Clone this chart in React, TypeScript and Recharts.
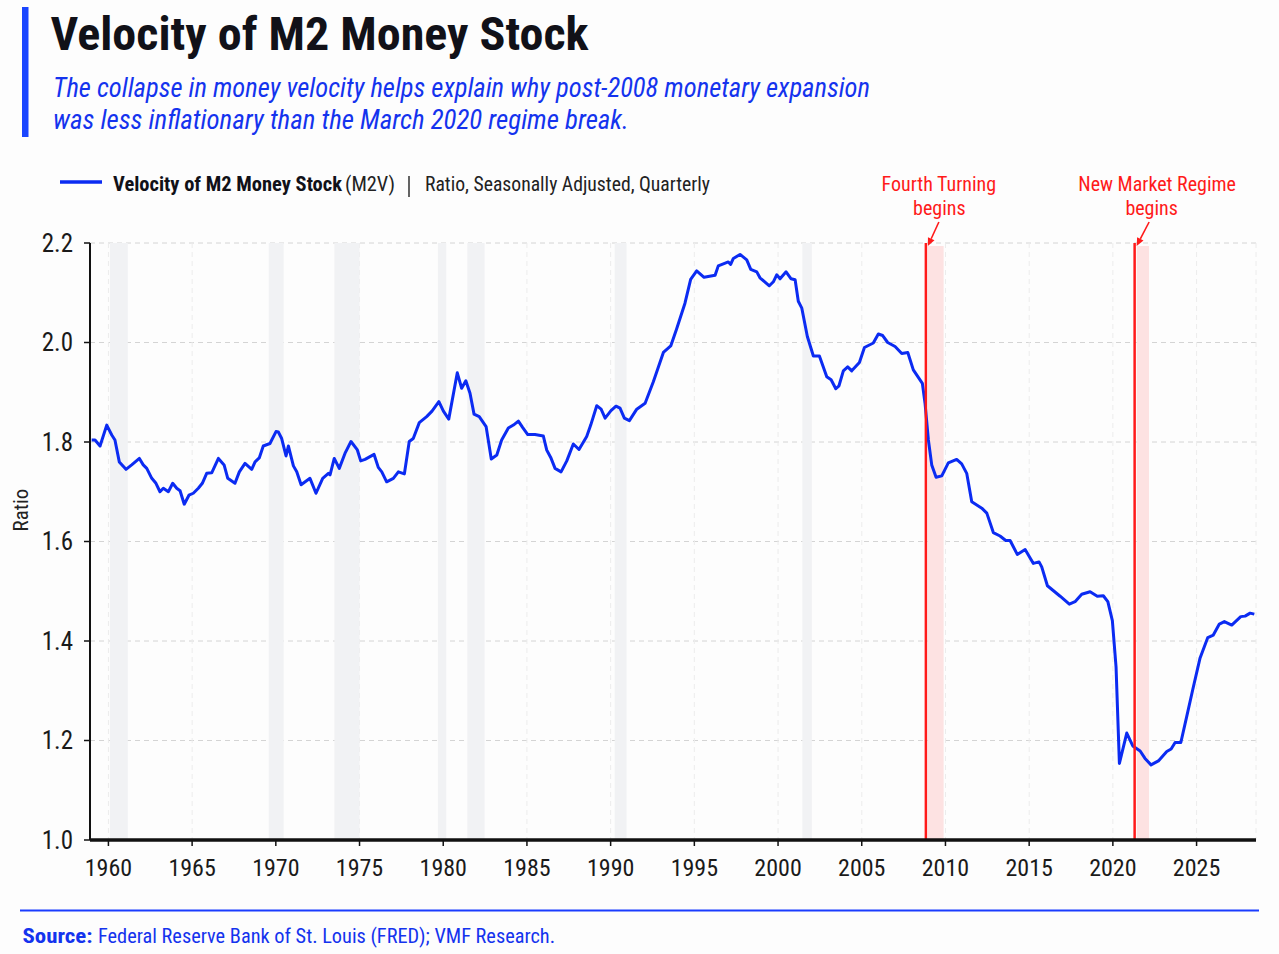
import React from 'react';
import { LineChart, Line, XAxis, YAxis, CartesianGrid, ReferenceArea, ReferenceLine } from 'recharts';

// ---- data ----
const years = [
  1959.0, 1959.2, 1959.5, 1959.9, 1960.2, 1960.39, 1960.65, 1961.05, 1961.39, 1961.85,
  1962.08, 1962.29, 1962.59, 1962.84, 1963.08, 1963.28, 1963.58, 1963.84, 1964.08, 1964.28,
  1964.53, 1964.81, 1965.07, 1965.37, 1965.61, 1965.87, 1966.17, 1966.57, 1966.91, 1967.13,
  1967.56, 1967.82, 1968.16, 1968.56, 1968.76, 1969.01, 1969.25, 1969.65, 1970.01, 1970.15,
  1970.35, 1970.61, 1970.75, 1971.05, 1971.25, 1971.51, 1972.04, 1972.4, 1972.8, 1973.14,
  1973.24, 1973.49, 1973.79, 1974.13, 1974.49, 1974.87, 1975.07, 1975.33, 1975.87, 1976.12,
  1976.33, 1976.62, 1977.02, 1977.32, 1977.68, 1977.97, 1978.21, 1978.57, 1979.01, 1979.33,
  1979.74, 1980.01, 1980.33, 1980.84, 1981.1, 1981.35, 1981.6, 1981.84, 1982.15, 1982.56,
  1982.87, 1983.2, 1983.49, 1983.89, 1984.19, 1984.49, 1984.75, 1985.05, 1985.48, 1985.98,
  1986.18, 1986.42, 1986.68, 1987.04, 1987.38, 1987.77, 1988.11, 1988.57, 1988.81, 1989.17,
  1989.43, 1989.67, 1990.02, 1990.32, 1990.56, 1990.82, 1991.12, 1991.56, 1992.06, 1992.55,
  1993.15, 1993.59, 1993.95, 1994.44, 1994.78, 1995.14, 1995.58, 1996.24, 1996.43, 1997.03,
  1997.17, 1997.33, 1997.73, 1998.13, 1998.37, 1998.73, 1998.92, 1999.48, 1999.72, 1999.92,
  2000.12, 2000.48, 2000.78, 2001.02, 2001.21, 2001.42, 2001.75, 2002.11, 2002.47, 2002.91,
  2003.17, 2003.45, 2003.64, 2003.9, 2004.16, 2004.4, 2004.86, 2005.16, 2005.69, 2005.99,
  2006.25, 2006.55, 2006.99, 2007.39, 2007.75, 2008.08, 2008.62, 2008.78, 2008.98, 2009.18,
  2009.44, 2009.78, 2010.17, 2010.67, 2010.97, 2011.27, 2011.57, 2012.17, 2012.47, 2012.86,
  2013.26, 2013.6, 2013.86, 2014.29, 2014.76, 2015.25, 2015.59, 2015.75, 2016.09, 2016.85,
  2017.4, 2017.74, 2018.14, 2018.64, 2019.07, 2019.43, 2019.7, 2019.97, 2020.19, 2020.39,
  2020.83, 2021.19, 2021.63, 2021.92, 2022.28, 2022.72, 2023.22, 2023.48, 2023.72, 2024.06,
  2024.41, 2024.77, 2025.21, 2025.67, 2026.0, 2026.36, 2026.66, 2027.1, 2027.64, 2027.9,
  2028.2, 2028.45,
];

const m2v = [
  1.804, 1.804, 1.792, 1.834, 1.814, 1.804, 1.76, 1.745, 1.754, 1.767,
  1.754, 1.747, 1.727, 1.717, 1.7, 1.707, 1.7, 1.717, 1.707, 1.702,
  1.675, 1.693, 1.697, 1.707, 1.717, 1.737, 1.738, 1.767, 1.754, 1.727,
  1.717, 1.74, 1.757, 1.745, 1.76, 1.768, 1.792, 1.797, 1.821, 1.82,
  1.807, 1.772, 1.792, 1.752, 1.74, 1.714, 1.727, 1.697, 1.727, 1.737,
  1.734, 1.767, 1.747, 1.777, 1.801, 1.784, 1.762, 1.765, 1.775, 1.749,
  1.74, 1.72, 1.727, 1.74, 1.736, 1.801, 1.807, 1.839, 1.851, 1.862,
  1.881, 1.862, 1.846, 1.939, 1.908, 1.923, 1.898, 1.856, 1.851, 1.831,
  1.766, 1.774, 1.804, 1.828, 1.834, 1.842, 1.829, 1.815, 1.815, 1.812,
  1.784, 1.769, 1.747, 1.74, 1.762, 1.796, 1.785, 1.811, 1.834, 1.873,
  1.866, 1.848, 1.863, 1.872, 1.868, 1.848, 1.843, 1.866, 1.878, 1.921,
  1.98, 1.993, 2.028, 2.079, 2.127, 2.144, 2.131, 2.135, 2.154, 2.162,
  2.157, 2.169, 2.177, 2.166, 2.147, 2.142, 2.13, 2.114, 2.122, 2.136,
  2.128, 2.142, 2.128, 2.126, 2.083, 2.069, 2.012, 1.973, 1.973, 1.931,
  1.925, 1.907, 1.913, 1.943, 1.951, 1.943, 1.96, 1.99, 1.999, 2.017,
  2.014, 2.0, 1.992, 1.978, 1.98, 1.945, 1.918, 1.878, 1.804, 1.754,
  1.729, 1.732, 1.758, 1.765, 1.756, 1.737, 1.68, 1.667, 1.657, 1.618,
  1.611, 1.602, 1.602, 1.574, 1.584, 1.556, 1.559, 1.549, 1.511, 1.49,
  1.474, 1.479, 1.494, 1.499, 1.49, 1.491, 1.479, 1.441, 1.348, 1.154,
  1.215, 1.189, 1.179, 1.164, 1.151, 1.159, 1.178, 1.183, 1.196, 1.196,
  1.248, 1.302, 1.366, 1.407, 1.412, 1.434, 1.439, 1.432, 1.449, 1.45,
  1.456, 1.454,
];

const xTicks = [1960, 1965, 1970, 1975, 1980, 1985, 1990, 1995, 2000, 2005, 2010, 2015, 2020, 2025];
const yTicks = [1.0, 1.2, 1.4, 1.6, 1.8, 2.0, 2.2];
const xDomain = [1958.9, 2028.55];
const yDomain = [1.0, 2.2];

const recessionStarts = [1960.09, 1969.58, 1973.5, 1979.68, 1981.44, 1990.24, 2001.45];
const recessionEnds = [1961.16, 1970.47, 1975.0, 1980.18, 1982.47, 1990.95, 2002.02];

const highlightStarts = [2008.93, 2021.43];
const highlightEnds = [2009.89, 2022.16];

const eventYears = [2008.83, 2021.3];
const eventTitles = ['Fourth Turning', 'New Market Regime'];
const eventSubtitles = ['begins', 'begins'];

const titleText = 'Velocity of M2 Money Stock';
const subtitleLines = [
  'The collapse in money velocity helps explain why post-2008 monetary expansion',
  'was less inflationary than the March 2020 regime break.',
];
const legendName = 'Velocity of M2 Money Stock';
const legendCode = '(M2V)';
const legendUnits = 'Ratio, Seasonally Adjusted, Quarterly';
const sourceLabel = 'Source:';
const sourceText = 'Federal Reserve Bank of St. Louis (FRED); VMF Research.';
const yAxisTitle = 'Ratio';

const data = years.map((year, i) => ({ year, v: m2v[i] }));

// ---- styles ----
const NARROW = "'Liberation Sans Narrow', 'Roboto Condensed', 'Arial Narrow', Roboto, sans-serif";
const LINE_BLUE = '#0b2bf2';
const TEXT_BLUE = '#1433ee';
const RED = '#ff1a1a';
const DARK = '#111118';

const eventStyle = [
  { titleDx: 13, subDx: 13.5, arrowDx: 13 },
  { titleDx: 22.5, subDx: 17, arrowDx: 14.5 },
];

const makeEventLabel = (i: number) => (props: any) => {
  const vb = props && props.viewBox ? props.viewBox : null;
  if (!vb || typeof vb.x !== 'number') return null;
  const x = vb.x;
  const y = vb.y;
  const st = eventStyle[i];
  const sx = x + st.arrowDx;
  const sy = y - 21;
  const tx = x + 2;
  const ty = y + 3;
  const dxv = tx - sx;
  const dyv = ty - sy;
  const len = Math.sqrt(dxv * dxv + dyv * dyv);
  const ux = dxv / len;
  const uy = dyv / len;
  const hl = 8;
  const hw = 3.6;
  const bx = tx - ux * hl;
  const by = ty - uy * hl;
  const px = -uy;
  const py = ux;
  const pts = `${tx},${ty} ${bx + px * hw},${by + py * hw} ${bx - px * hw},${by - py * hw}`;
  return (
    <g>
      <text x={x + st.titleDx} y={y - 52} textAnchor="middle" fill={RED} fontSize={20} fontFamily={NARROW}>
        {eventTitles[i]}
      </text>
      <text x={x + st.subDx} y={y - 28} textAnchor="middle" fill={RED} fontSize={20} fontFamily={NARROW}>
        {eventSubtitles[i]}
      </text>
      <line x1={sx} y1={sy} x2={bx} y2={by} stroke={RED} strokeWidth={1.6} />
      <polygon points={pts} fill={RED} />
    </g>
  );
};

function Header() {
  return (
    <svg
      width={1279}
      height={954}
      style={{ position: 'absolute', left: 0, top: 0, pointerEvents: 'none' }}
    >
      <rect x={22} y={7} width={6.5} height={130} fill="#1a45ff" />
      <text
        x={50.5}
        y={50}
        fontSize={46}
        fontWeight={700}
        fill={DARK}
        fontFamily={NARROW}
        textLength={538}
        lengthAdjust="spacingAndGlyphs"
      >
        {titleText}
      </text>
      <text
        x={53}
        y={96.5}
        fontSize={27}
        fontStyle="italic"
        fill={TEXT_BLUE}
        fontFamily={NARROW}
        textLength={817}
        lengthAdjust="spacingAndGlyphs"
      >
        {subtitleLines[0]}
      </text>
      <text
        x={53}
        y={129}
        fontSize={27}
        fontStyle="italic"
        fill={TEXT_BLUE}
        fontFamily={NARROW}
        textLength={576}
        lengthAdjust="spacingAndGlyphs"
      >
        {subtitleLines[1]}
      </text>

      {/* legend */}
      <line x1={60} y1={182} x2={102} y2={182} stroke={LINE_BLUE} strokeWidth={3.5} />
      <text x={113} y={191} fontSize={20} fontWeight={700} fill={DARK} fontFamily={NARROW} textLength={229} lengthAdjust="spacingAndGlyphs">
        {legendName}
      </text>
      <text x={345} y={191} fontSize={20} fill="#222" fontFamily={NARROW} textLength={50} lengthAdjust="spacingAndGlyphs">
        {legendCode}
      </text>
      <line x1={409} y1={176} x2={409} y2={197} stroke="#222" strokeWidth={1.4} />
      <text x={425} y={191} fontSize={20} fill="#222" fontFamily={NARROW} textLength={285} lengthAdjust="spacingAndGlyphs">
        {legendUnits}
      </text>

      {/* y axis title */}
      <text
        x={0}
        y={0}
        transform="translate(28,510) rotate(-90)"
        textAnchor="middle"
        fontSize={21}
        fill="#222"
        fontFamily={NARROW}
      >
        {yAxisTitle}
      </text>

      {/* footer */}
      <line x1={20} y1={910.5} x2={1259} y2={910.5} stroke="#1a3cff" strokeWidth={2} />
      <text x={22.5} y={943} fontSize={20} fontWeight={700} fill={TEXT_BLUE} fontFamily={NARROW} textLength={70} lengthAdjust="spacingAndGlyphs">
        {sourceLabel}
      </text>
      <text x={98} y={943} fontSize={20} fill={TEXT_BLUE} fontFamily={NARROW} textLength={457} lengthAdjust="spacingAndGlyphs">
        {sourceText}
      </text>
    </svg>
  );
}

export default function App() {
  return (
    <div
      style={{
        position: 'absolute',
        left: 0,
        top: 0,
        width: 1279,
        height: 954,
        background: '#fdfdfd',
        overflow: 'hidden',
      }}
    >
      <Header />
      <div style={{ position: 'absolute', left: 0, top: 0 }}>
        <LineChart
          width={1279}
          height={954}
          data={data}
          margin={{ top: 243, right: 23, bottom: 74, left: 30 }}
        >
          <CartesianGrid vertical={false} stroke="#d4d4d4" strokeDasharray="5 4" />
          <CartesianGrid horizontal={false} stroke="#ececec" strokeDasharray="5 4" />
          {recessionStarts.map((s, i) => (
            <ReferenceArea
              key={`rec-${i}`}
              x1={s}
              x2={recessionEnds[i]}
              y1={yDomain[0]}
              y2={yDomain[1]}
              fill="#f1f2f4"
              fillOpacity={1}
              stroke="none"
            />
          ))}
          {highlightStarts.map((s, i) => (
            <ReferenceArea
              key={`hl-${i}`}
              x1={s}
              x2={highlightEnds[i]}
              y1={yDomain[0]}
              y2={2.194}
              fill="#fde2e2"
              fillOpacity={1}
              stroke="none"
            />
          ))}
          <XAxis
            type="number"
            dataKey="year"
            domain={xDomain}
            ticks={xTicks}
            interval={0}
            allowDataOverflow
            height={40}
            axisLine={{ stroke: '#111', strokeWidth: 3.5 }}
            tickLine={{ stroke: '#111', strokeWidth: 1.5 }}
            tickSize={6}
            tickMargin={13}
            tick={{ fontSize: 24, fill: '#1a1a1a', fontFamily: NARROW }}
          />
          <YAxis
            type="number"
            domain={yDomain}
            ticks={yTicks}
            interval={0}
            allowDataOverflow
            width={60}
            axisLine={{ stroke: '#111', strokeWidth: 2 }}
            tickLine={{ stroke: '#111', strokeWidth: 1.5 }}
            tickSize={6}
            tickMargin={11}
            tick={{ fontSize: 25, fill: '#1a1a1a', fontFamily: NARROW }}
            tickFormatter={(v: number) => v.toFixed(1)}
          />
          <Line
            type="linear"
            dataKey="v"
            stroke={LINE_BLUE}
            strokeWidth={3}
            dot={false}
            activeDot={false}
            strokeLinejoin="round"
            isAnimationActive={false}
          />
          {eventYears.map((yr, i) => (
            <ReferenceLine
              key={`ev-${i}`}
              x={yr}
              stroke={RED}
              strokeWidth={2.5}
              label={makeEventLabel(i)}
            />
          ))}
        </LineChart>
      </div>
    </div>
  );
}
